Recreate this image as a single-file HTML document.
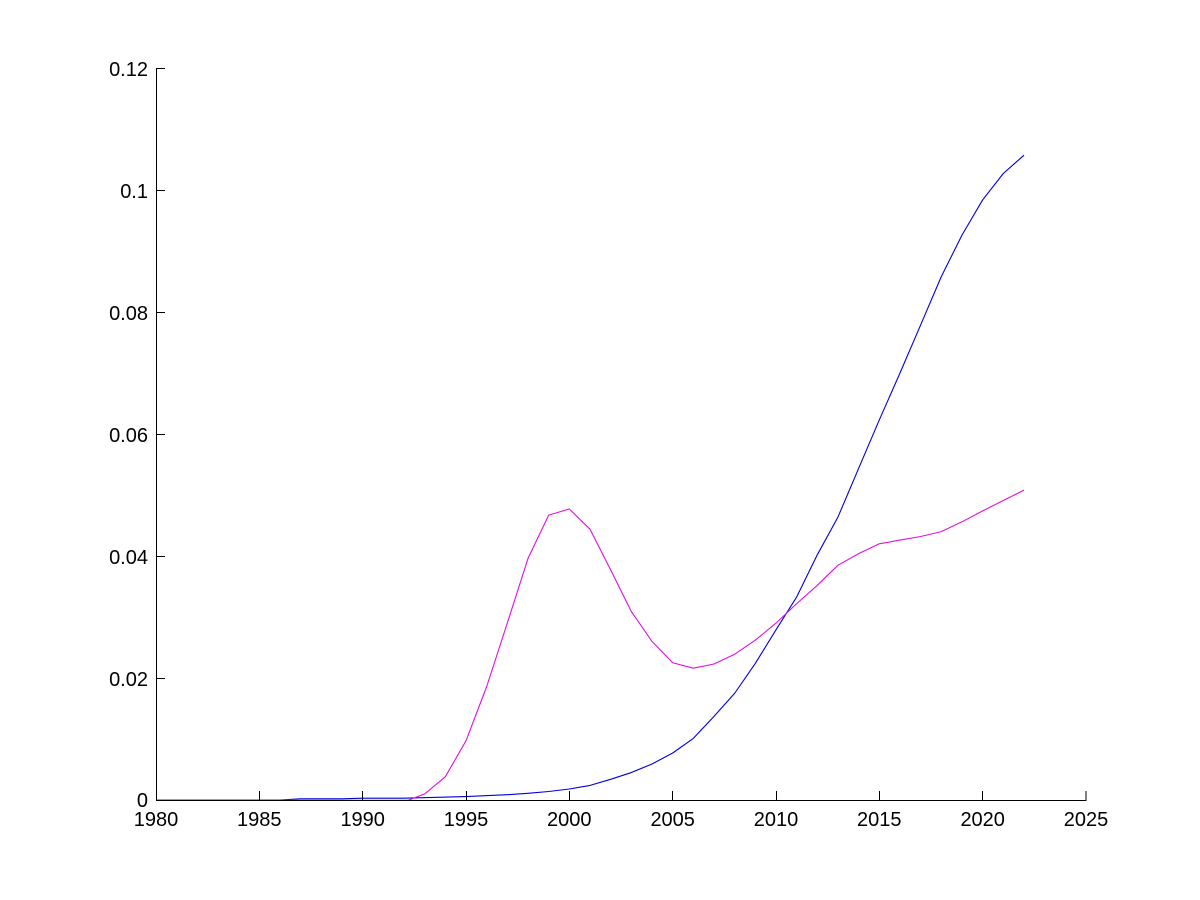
<!DOCTYPE html>
<html>
<head>
<meta charset="utf-8">
<style>
  html, body { margin: 0; padding: 0; background: #ffffff; }
  svg { display: block; }
  text { font-family: "Liberation Sans", Arial, sans-serif; font-size: 20px; fill: #000; }
</style>
</head>
<body>
<svg width="1200" height="900" viewBox="0 0 1200 900" xmlns="http://www.w3.org/2000/svg">
  <rect x="0" y="0" width="1200" height="900" fill="#ffffff"/>

  <!-- data series -->
  <polyline fill="none" stroke="#0000d8" stroke-width="1.1" stroke-linejoin="round"
    points="156,800 280,800 300.7,798.8 342,798.8 362.7,798.2 404,798.2 466,796.6 507.3,794.7 528,793.3 548.7,791.5 569.3,789.0 590,785.4 610.7,779.3 631.3,772.55 652,764.0 672.7,753.0 693.3,738.4 714,716.4 734.7,693.25 755.3,663.4 776,629.8 796.7,596.9 817.3,554.8 838,516.96 858.7,468.2 879.3,419.97 900,373 920.7,324.8 941.3,276.6 962,235.1 982.7,199.8 1003.3,173.5 1024,155.2"/>
  <polyline fill="none" stroke="#e010e0" stroke-width="1.1" stroke-linejoin="round"
    points="156,800.3 290.3,800.3 408.1,800.3 424.7,793.9 445.3,776.8 466,740.8 486.7,686.5 507.3,623.1 528,558.4 548.7,515.1 569.3,509.0 590,529.2 610.7,570.0 631.3,611.5 652,641.4 672.7,662.75 693.3,668.2 714,664.0 734.7,654.2 755.3,640.2 776,623.1 796.7,603.6 817.3,585.3 838,565.2 858.7,553.6 879.3,543.8 900,540.1 920.7,536.5 941.3,531.6 962,521.8 982.7,510.9 1003.3,500.5 1024,490.1"/>

  <!-- axes -->
  <g stroke="#000" stroke-width="1" shape-rendering="crispEdges">
    <line x1="156.5" y1="68" x2="156.5" y2="800.5"/>
    <line x1="156" y1="800.5" x2="1086.5" y2="800.5"/>
    <!-- y ticks -->
    <line x1="156" y1="68.5" x2="165" y2="68.5"/>
    <line x1="156" y1="190.5" x2="165" y2="190.5"/>
    <line x1="156" y1="312.5" x2="165" y2="312.5"/>
    <line x1="156" y1="434.5" x2="165" y2="434.5"/>
    <line x1="156" y1="556.5" x2="165" y2="556.5"/>
    <line x1="156" y1="678.5" x2="165" y2="678.5"/>
    <!-- x ticks -->
    <line x1="259.5" y1="791" x2="259.5" y2="800"/>
    <line x1="362.5" y1="791" x2="362.5" y2="800"/>
    <line x1="466.5" y1="791" x2="466.5" y2="800"/>
    <line x1="569.5" y1="791" x2="569.5" y2="800"/>
    <line x1="672.5" y1="791" x2="672.5" y2="800"/>
    <line x1="776.5" y1="791" x2="776.5" y2="800"/>
    <line x1="879.5" y1="791" x2="879.5" y2="800"/>
    <line x1="982.5" y1="791" x2="982.5" y2="800"/>
    <line x1="1086" y1="791" x2="1086" y2="800"/>
  </g>

  <!-- y labels -->
  <g text-anchor="end">
    <text x="148" y="76">0.12</text>
    <text x="148" y="198">0.1</text>
    <text x="148" y="320">0.08</text>
    <text x="148" y="442">0.06</text>
    <text x="148" y="564">0.04</text>
    <text x="148" y="686">0.02</text>
    <text x="148" y="807">0</text>
  </g>

  <!-- x labels -->
  <g text-anchor="middle">
    <text x="156" y="826">1980</text>
    <text x="259.3" y="826">1985</text>
    <text x="362.7" y="826">1990</text>
    <text x="466" y="826">1995</text>
    <text x="569.3" y="826">2000</text>
    <text x="672.7" y="826">2005</text>
    <text x="776" y="826">2010</text>
    <text x="879.3" y="826">2015</text>
    <text x="982.7" y="826">2020</text>
    <text x="1086" y="826">2025</text>
  </g>
</svg>
</body>
</html>
